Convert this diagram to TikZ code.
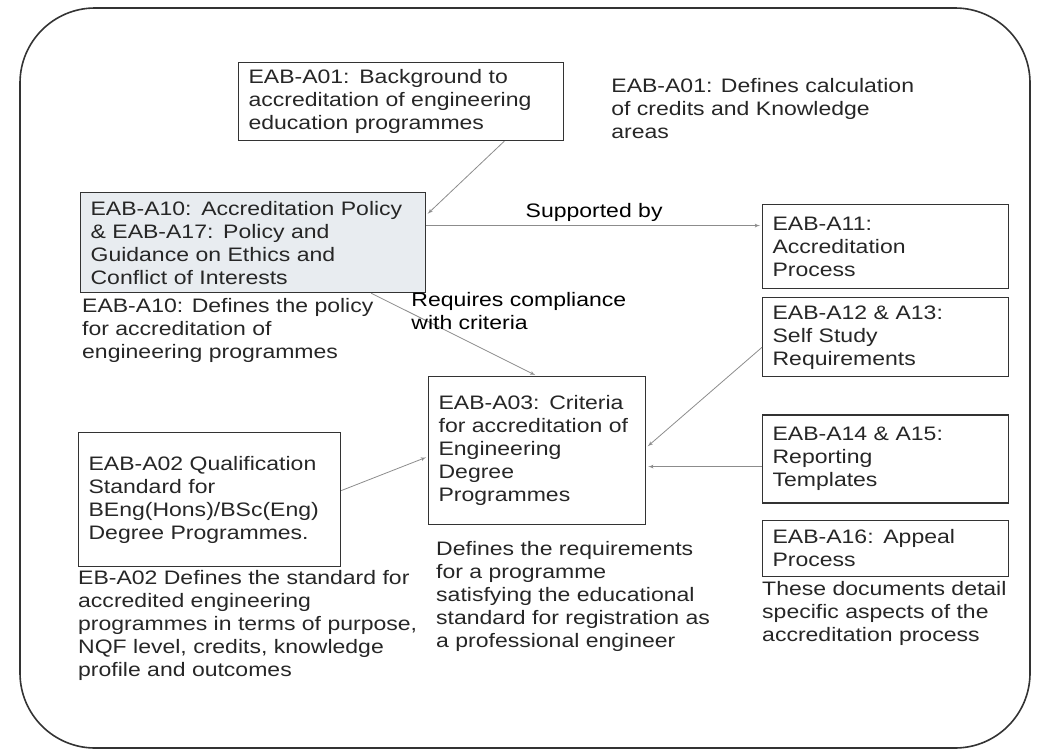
\documentclass[tikz,border=0pt]{standalone}
\usepackage{fontspec}
\setmainfont{Liberation Sans}[FakeStretch=1.18]
\usepackage{tikz}
\usetikzlibrary{positioning}
\usetikzlibrary{shapes,arrows}
\definecolor{shade}{RGB}{232,236,240}
\tikzstyle{block} = [rectangle, draw=black!80, line width=1.2pt, text=black!85,
    align=left, inner xsep=10pt, inner ysep=3pt, anchor=north west]
\tikzstyle{note} = [text=black!85, align=left, inner sep=2pt]
\tikzstyle{line} = [draw=black!45, line width=0.8pt, -latex', shorten >=2pt]

\begin{document}
\begin{tikzpicture}[x=1pt, y=-1pt, node distance = 8pt, auto, font=\fontsize{19.5}{23}\selectfont]
        \useasboundingbox (0,0) rectangle (1038,755);
        \draw [black!80, line width=1.6pt, rounded corners=75pt] (20,8) rectangle (1030,748);
        \node [block, text width=305pt, minimum height=78pt] (a01) at (238,62) {EAB-A01: Background to\\accreditation of engineering\\education programmes};
        \node [note, right=45pt of a01, yshift=-7pt] (n01) {EAB-A01: Defines calculation\\of credits and Knowledge\\areas};
        \node [block, fill=shade, text width=325pt, minimum height=100pt] (a10) at (80,192) {EAB-A10: Accreditation Policy\\\& EAB-A17: Policy and\\Guidance on Ethics and\\Conflict of Interests};
        \node [note, below right=3pt and 0pt of a10.south west] (n10) {EAB-A10: Defines the policy\\for accreditation of\\engineering programmes};
        \node [block, text width=226pt, minimum height=84pt] (a11) at (762,204) {EAB-A11:\\Accreditation\\Process};
        \node [block, below=8pt of a11, text width=226pt, minimum height=79pt] (a12) {EAB-A12 \& A13:\\Self Study\\Requirements};
        \node [block, below=37pt of a12, text width=226pt, minimum height=88pt] (a14) {EAB-A14 \& A15:\\Reporting\\Templates};
        \node [block, below=16pt of a14, text width=226pt, minimum height=56pt] (a16) {EAB-A16: Appeal\\Process};
        \node [note, below right=2pt and -2pt of a16.south west] (n16) {These documents detail\\specific aspects of the\\accreditation process};
        \node [block, text width=197pt, minimum height=148pt] (a03) at (428,376) {EAB-A03: Criteria\\for accreditation of\\Engineering\\Degree\\Programmes};
        \node [note, below right=14pt and 6pt of a03.south west] (n03) {Defines the requirements\\for a programme\\satisfying the educational\\standard for registration as\\a professional engineer};
        \node [block, text width=242pt, minimum height=134pt] (a02) at (78,432) {EAB-A02 Qualification\\Standard for\\BEng(Hons)/BSc(Eng)\\Degree Programmes.};
        \node [note, below right=1pt and -2pt of a02.south west] (n02) {EB-A02 Defines the standard for\\accredited engineering\\programmes in terms of purpose,\\NQF level, credits, knowledge\\profile and outcomes};
        % edges
        \path [line] (a01.-21) -- (a10.9);
        \path [line] ([yshift=17pt]a10.east) -- node[above] {Supported by} ([yshift=17pt]a10.east -| a11.west);
        \path [line] ([xshift=-55pt]a10.south east) -- node[pos=0.22, right, align=left] {Requires compliance\\with criteria} (a03.north);
        \path [line] ([yshift=-10pt]a12.west) -- ([yshift=3pt]a03.east);
        \path [line] ([yshift=-16pt]a03.east -| a14.west) -- ([yshift=-16pt]a03.east);
        \path [line] ([yshift=9pt]a02.east) -- ([yshift=-6pt]a03.west);
    \end{tikzpicture}
\end{document}
